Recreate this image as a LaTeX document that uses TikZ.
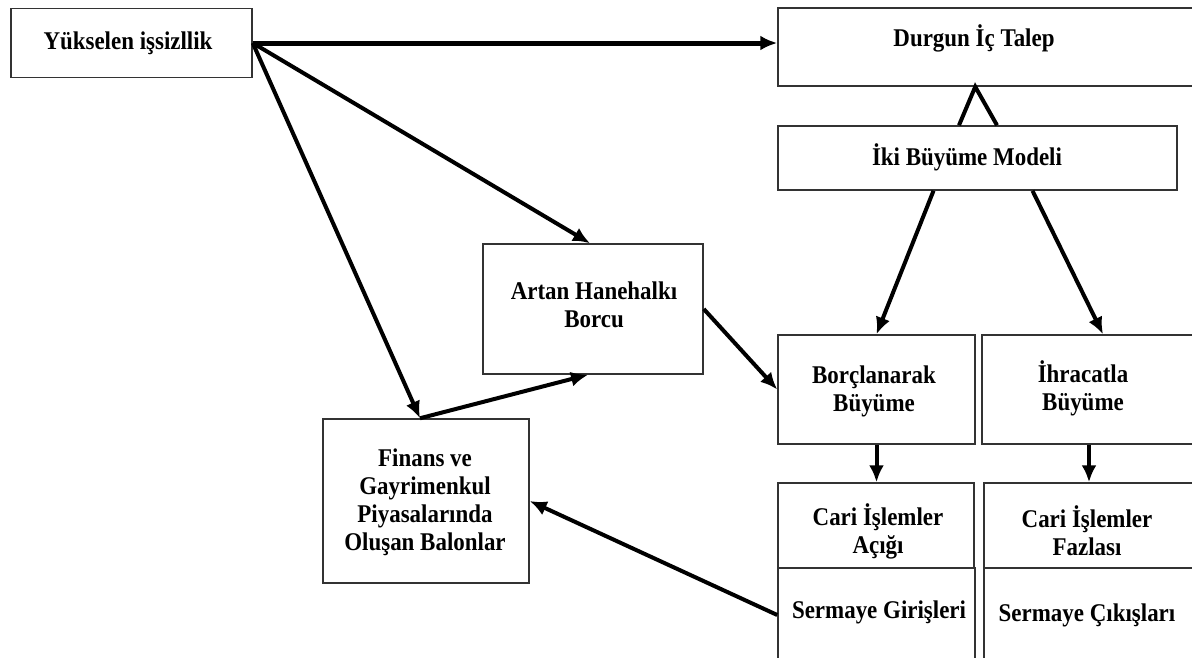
\documentclass[tikz,border=0pt]{standalone}
\usepackage{fontspec}
\newfontfamily\tnr{Liberation Serif}[FakeStretch=0.9]
\usetikzlibrary{arrows.meta,calc}
\begin{document}
\begin{tikzpicture}[x=1pt,y=-1pt,
  box/.style={draw=black!80,line width=1.5pt,inner sep=0pt,rectangle},
  txt/.style={font=\tnr\bfseries\fontsize{25.5}{28}\selectfont,align=center,inner sep=0pt},
  arr/.style={line width=4pt,-{Latex[length=17pt,width=15pt]}},
  ln/.style={line width=4pt}]
\useasboundingbox (0,0) rectangle (1192,657);
\clip (0,0) rectangle (1192,657);
\fill[white] (0,0) rectangle (1192,657);
% boxes
\node[box,minimum width=241pt,minimum height=69pt] (yuk) at (131.5,43) {};
\node[box,minimum width=422pt,minimum height=78pt] (durgun) at (989,47) {};
\node[box,minimum width=399pt,minimum height=64pt] (iki) at (977.5,158) {};
\node[box,minimum width=220pt,minimum height=130pt] (artan) at (593,309) {};
\node[box,minimum width=206pt,minimum height=164pt] (finans) at (426,501) {};
\node[box,minimum width=197pt,minimum height=109pt] (borc) at (876.5,389.5) {};
\node[box,minimum width=218pt,minimum height=109pt] (ihr) at (1091,389.5) {};
\node[box,minimum width=196pt,minimum height=85pt] (acik) at (876,525.5) {};
\node[box,minimum width=216pt,minimum height=85pt] (fazla) at (1092,525.5) {};
\node[box,minimum width=197pt,minimum height=102pt] (giris) at (876.5,619) {};
\node[box,minimum width=216pt,minimum height=102pt] (cikis) at (1092,619) {};
% texts
\node[txt] (tyuk) at (128,43) {Yükselen işsizllik};
\node[txt] (tdurgun) at (974,38) {Durgun İç Talep};
\node[txt] (tiki) at (967,157) {İki Büyüme Modeli};
\node[txt] (tartan) at (594,305) {Artan Hanehalkı\\Borcu};
\node[txt] (tfinans) at (425,502) {Finans ve\\Gayrimenkul\\Piyasalarında\\Oluşan Balonlar};
\node[txt] (tborc) at (874,391) {Borçlanarak\\Büyüme};
\node[txt] (tihr) at (1083,388) {İhracatla\\Büyüme};
\node[txt] (tacik) at (878,531) {Cari İşlemler\\Açığı};
\node[txt] (tfazla) at (1087,531) {Cari İşlemler\\Fazlası};
\node[txt] (tgiris) at (879,612) {Sermaye Girişleri};
\node[txt] (tcikis) at (1087,615) {Sermaye Çıkışları};
% connectors
\coordinate (apex) at ($(durgun.south west)+(198,0)$);
\coordinate (ihrs) at ($(ihr.south)+(-2,0)$);
\coordinate (fazn) at (ihrs |- fazla.north);
\coordinate (gw) at ($(giris.west)+(0,-4)$);
\draw[ln,line join=miter] ($(iki.north)+(-18.5,0)$) -- (apex) -- ($(iki.north)+(19.5,0)$);
\draw[arr,line width=5pt] (yuk.east) -- (yuk.east -| durgun.west);
\draw[arr] (yuk.east) -- ($(artan.north)+(-3,0)$);
\draw[arr] (yuk.east) -- ($(finans.north)+(-6,0)$);
\draw[arr] ($(finans.north)+(-6,0)$) -- ($(artan.south)+(-5,0)$);
\draw[arr] (artan.east) -- (borc.west);
\draw[arr] ($(iki.south)+(-44,0)$) -- (borc.north);
\draw[arr] ($(iki.south)+(55,0)$) -- ($(ihr.north)+(12,0)$);
\draw[arr] (borc.south) -- (borc.south |- acik.north);
\draw[arr] (ihrs) -- (fazn);
\draw[arr] (gw) -- (finans.east);
\end{tikzpicture}
\end{document}
